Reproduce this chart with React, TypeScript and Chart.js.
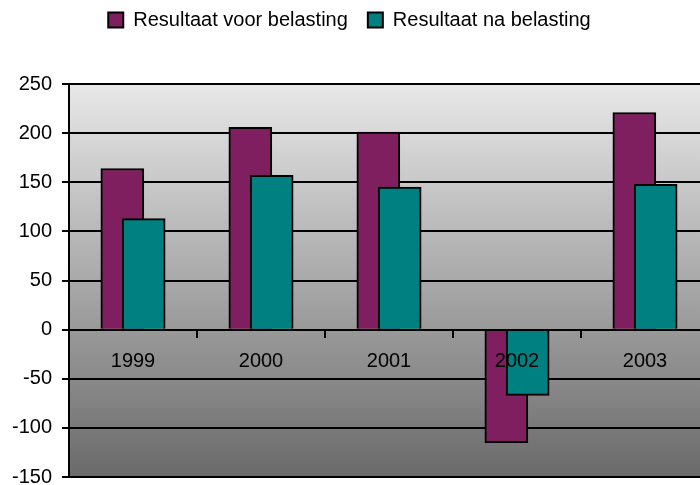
import React, { useEffect, useRef } from "react";
import { Chart, registerables } from "chart.js";

Chart.register(...registerables);

const years = ["1999", "2000", "2001", "2002", "2003"];
const beforeTax = [164, 206, 201, -115, 221];
const afterTax = [113, 157, 145, -67, 148];
const seriesNames = ["Resultaat voor belasting", "Resultaat na belasting"];
const yMin = -150;
const yMax = 250;
const yStep = 50;

const FONT = { family: "'Liberation Sans', Arial, sans-serif", size: 20 };
const SHIFT = 1 / 12; // Excel overlap 50%, gap 150%

const gradientPlugin = {
  id: "bgGradient",
  beforeDraw(chart: any) {
    const { ctx, chartArea } = chart;
    if (!chartArea) return;
    const g = ctx.createLinearGradient(0, chartArea.top, 0, chartArea.bottom);
    g.addColorStop(0, "#e8e8e8");
    g.addColorStop(1, "#6a6a6a");
    ctx.save();
    ctx.fillStyle = g;
    ctx.fillRect(chartArea.left, chartArea.top, chartArea.right - chartArea.left, chartArea.bottom - chartArea.top);
    ctx.restore();
  },
};

export default function App() {
  const ref = useRef<HTMLCanvasElement | null>(null);
  useEffect(() => {
    if (!ref.current) return;
    const chart = new Chart(ref.current, {
      type: "bar",
      data: {
        labels: years,
        datasets: [
          {
            label: seriesNames[0],
            data: years.map((_, i) => ({ x: i - SHIFT, y: beforeTax[i] })),
            backgroundColor: "#7f1f5f",
            borderColor: "#000",
            borderWidth: 2,
            barThickness: 43,
            grouped: false,
            xAxisID: "xb",
            order: 2,
          },
          {
            label: seriesNames[1],
            data: years.map((_, i) => ({ x: i + SHIFT, y: afterTax[i] })),
            backgroundColor: "#008080",
            borderColor: "#000",
            borderWidth: 2,
            barThickness: 43,
            grouped: false,
            xAxisID: "xb",
            order: 1,
          },
        ] as any,
      },
      options: {
        responsive: false,
        animation: false,
        layout: { padding: { left: 0, right: 1, top: -10, bottom: 14 } },
        plugins: {
          legend: {
            position: "top",
            labels: {
              boxWidth: 15,
              boxHeight: 15,
              padding: 20,
              color: "#000",
              font: FONT,
              sort: (a: any, b: any) => a.datasetIndex - b.datasetIndex,
            },
          },
          tooltip: { enabled: false },
        },
        scales: {
          x: {
            type: "category",
            labels: years,
            position: { y: 0 },
            offset: true,
            grid: {
              offset: true,
              drawOnChartArea: false,
              drawTicks: true,
              tickLength: 7,
              color: "#000",
              lineWidth: 2,
            },
            border: { display: true, color: "#000", width: 2, z: 1 },
            ticks: { color: "#000", font: FONT, padding: 13, maxRotation: 0, autoSkip: false, z: 1 },
          },
          xb: {
            type: "linear",
            position: "top",
            min: -0.5,
            max: 4.5,
            offset: false,
            grid: { display: false },
            border: { display: false },
            ticks: { display: false },
            afterFit: (s: any) => {
              s.height = 44;
            },
          },
          y: {
            type: "linear",
            min: yMin,
            max: yMax,
            ticks: { stepSize: yStep, color: "#000", font: FONT, padding: 10 },
            grid: { color: "#000", lineWidth: 2, tickLength: 7, drawTicks: true },
            border: { display: true, color: "#000", width: 2 },
            afterFit: (s: any) => {
              s.width = 79;
            },
          },
        } as any,
      },
      plugins: [gradientPlugin],
    });
    return () => chart.destroy();
  }, []);

  return (
    <div style={{ position: "absolute", left: 0, top: 0, width: 700, height: 485, overflow: "hidden", background: "#fff" }}>
      <canvas ref={ref} width={720} height={499} style={{ position: "absolute", left: -10, top: 0, width: 720, height: 499 }} />
    </div>
  );
}
